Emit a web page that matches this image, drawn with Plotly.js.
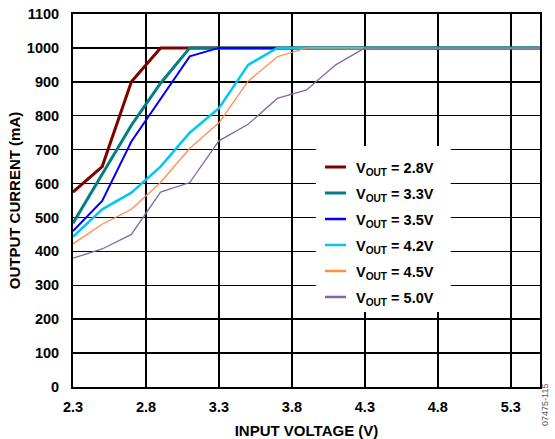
<!DOCTYPE html>
<html>
<head>
<meta charset="utf-8">
<script src="https://cdn.plot.ly/plotly-3.0.1.min.js"></script>
<style>
  html, body { margin: 0; padding: 0; background: #fff; }
  #chart { width: 555px; height: 439px; }
</style>
</head>
<body>
<div id="chart"></div>
<script>
// Input voltage sweep (V)
const vin = [2.3, 2.5, 2.7, 2.9, 3.1, 3.3, 3.5, 3.7, 3.9, 4.1, 4.3, 4.5, 4.7, 4.9, 5.1, 5.3, 5.5];

// Maximum output current (mA) for each output voltage setting
const iout28 = [575, 650, 900, 1000, 1000, 1000, 1000, 1000, 1000, 1000, 1000, 1000, 1000, 1000, 1000, 1000, 1000];
const iout33 = [483, 628, 772, 896, 1000, 1000, 1000, 1000, 1000, 1000, 1000, 1000, 1000, 1000, 1000, 1000, 1000];
const iout35 = [460, 549, 724, 848, 975, 1000, 1000, 1000, 1000, 1000, 1000, 1000, 1000, 1000, 1000, 1000, 1000];
const iout42 = [443, 524, 573, 650, 750, 822, 950, 1000, 1000, 1000, 1000, 1000, 1000, 1000, 1000, 1000, 1000];
const iout45 = [422, 480, 524, 603, 704, 779, 902, 974, 1000, 1000, 1000, 1000, 1000, 1000, 1000, 1000, 1000];
const iout50 = [380, 407, 450, 575, 603, 726, 775, 851, 876, 950, 1000, 1000, 1000, 1000, 1000, 1000, 1000];

const voutLabels = ['2.8V', '3.3V', '3.5V', '4.2V', '4.5V', '5.0V'];
const seriesValues = [iout28, iout33, iout35, iout42, iout45, iout50];

const xTickVals = [2.3, 2.8, 3.3, 3.8, 4.3, 4.8, 5.3];
const yTickVals = [0, 100, 200, 300, 400, 500, 600, 700, 800, 900, 1000, 1100];

const colors = ['#800000', '#008080', '#0000FF', '#00C8F5', '#FF8C4B', '#8466A8'];
const widths = [3, 3, 2, 2.5, 1.3, 1.3];

const FONT = 'Liberation Sans, Arial, Helvetica, sans-serif';

const traces = seriesValues.map((vals, i) => ({
  type: 'scatter',
  mode: 'lines',
  x: vin,
  y: vals,
  name: 'V<sub>OUT</sub> = ' + voutLabels[i],
  line: { color: colors[i], width: widths[i] },
  showlegend: false,
  hoverinfo: 'skip'
}));

// Hand-placed key inside the plot area (paper coordinates)
const keyTop = 0.5898;
const keyStep = 0.0697;
const shapes = [{
  type: 'rect', xref: 'paper', yref: 'paper',
  x0: 0.520, x1: 0.809, y0: 0.201, y1: 0.646,
  fillcolor: '#ffffff', line: { width: 0 }, layer: 'above'
}];
const annotations = [];
voutLabels.forEach((lab, i) => {
  const yy = keyTop - i * keyStep;
  shapes.push({
    type: 'line', xref: 'paper', yref: 'paper',
    x0: 0.5396, x1: 0.5846, y0: yy, y1: yy,
    line: { color: colors[i], width: Math.max(widths[i], 2.5) }, layer: 'above'
  });
  annotations.push({
    xref: 'paper', yref: 'paper', x: 0.6017, y: yy,
    xanchor: 'left', yanchor: 'middle', yshift: -2,
    text: 'V<sub>OUT</sub> = ' + lab, showarrow: false,
    font: { family: FONT, size: 14.5, color: '#000', weight: 'bold' }
  });
});

annotations.push({
  xref: 'paper', yref: 'paper', x: 1.0107, y: -0.048,
  xanchor: 'center', yanchor: 'middle', textangle: -90,
  text: '07475-115', showarrow: false,
  font: { family: FONT, size: 9, color: '#555' }
});

const layout = {
  width: 555,
  height: 439,
  margin: { l: 73, r: 15, t: 14, b: 52, pad: 0 },
  paper_bgcolor: '#fff',
  plot_bgcolor: '#fff',
  showlegend: false,
  font: { family: FONT, color: '#000' },
  xaxis: {
    range: [2.3, 5.5],
    tickmode: 'array',
    tickvals: xTickVals,
    ticktext: xTickVals.map(v => v.toFixed(1)),
    showgrid: true, gridcolor: '#000', gridwidth: 1.5,
    zeroline: false,
    showline: true, mirror: true, linecolor: '#000', linewidth: 2,
    ticks: '', ticklabelstandoff: 6,
    tickfont: { family: FONT, size: 14.5, color: '#000', weight: 'bold' },
    title: { text: 'INPUT VOLTAGE (V)', standoff: 12,
             font: { family: FONT, size: 15, color: '#000', weight: 'bold' } },
    fixedrange: true
  },
  yaxis: {
    range: [0, 1100],
    tickmode: 'array',
    tickvals: yTickVals,
    showgrid: true, gridcolor: '#000', gridwidth: 1.5,
    zeroline: false,
    showline: true, mirror: true, linecolor: '#000', linewidth: 2,
    ticks: '', ticklabelstandoff: 9,
    tickfont: { family: FONT, size: 14.5, color: '#000', weight: 'bold' },
    title: { text: 'OUTPUT CURRENT (mA)', standoff: 3,
             font: { family: FONT, size: 15, color: '#000', weight: 'bold' } },
    fixedrange: true
  },
  shapes: shapes,
  annotations: annotations
};

Plotly.newPlot('chart', traces, layout, { displayModeBar: false, staticPlot: true });
</script>
</body>
</html>
